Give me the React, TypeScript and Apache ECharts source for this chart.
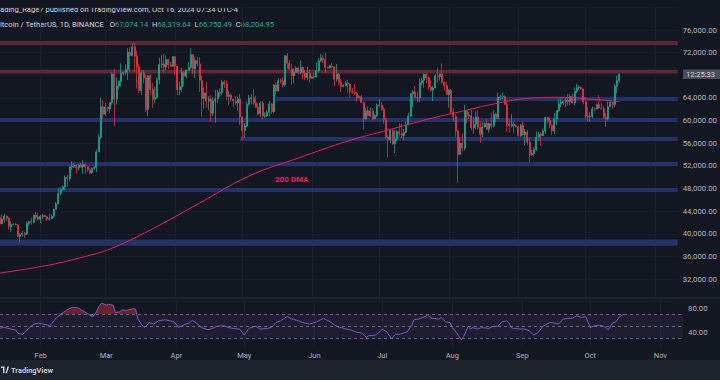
import React, { useEffect, useRef } from 'react';
import * as echarts from 'echarts';

// ---------- categories: daily dates Jan 14 → Nov 11, 2024 ----------
const START = Date.UTC(2024, 0, 14);
const N_DAYS = 303;
const dates: string[] = [];
for (let i = 0; i < N_DAYS; i++) {
  dates.push(new Date(START + i * 86400000).toISOString().slice(0, 10));
}
const MONTHS = ['Jan', 'Feb', 'Mar', 'Apr', 'May', 'Jun', 'Jul', 'Aug', 'Sep', 'Oct', 'Nov', 'Dec'];

// ---------- BTCUSDT daily candles [open, high, low, close] ----------
const jan = [
  [42840, 43080, 41720, 41730], [41730, 43400, 41720, 42510], [42510, 43580, 42050, 43140],
  [43140, 43200, 42200, 42780], [42780, 42930, 40680, 41260], [41260, 42200, 40280, 41620],
  [41620, 41870, 41500, 41660], [41660, 41880, 41500, 41570], [41570, 41670, 39430, 39510],
  [39510, 40130, 38550, 39850], [39850, 40550, 39480, 40080], [40080, 40300, 39260, 39930],
  [39930, 42220, 39810, 41820], [41820, 42200, 41390, 42120], [42120, 42840, 41620, 42030],
  [42030, 43310, 41800, 43300], [43300, 43880, 42680, 42940], [42940, 43740, 42280, 42580],
];
const feb = [
  [42580, 43290, 41880, 43080], [43080, 43480, 42580, 43190], [43190, 43380, 42880, 43000],
  [43000, 43120, 42260, 42580], [42580, 43530, 42260, 42660], [42660, 43390, 42580, 43090],
  [43090, 44370, 42790, 44340], [44340, 45610, 44330, 45290], [45290, 48200, 45240, 47130],
  [47130, 48170, 46800, 47770], [47770, 48590, 47690, 48290], [48290, 50330, 47710, 49960],
  [49960, 50370, 48300, 49700], [49700, 52040, 49280, 51810], [51810, 52820, 51310, 51940],
  [51940, 52570, 51620, 52130], [52130, 52200, 50630, 51650], [51650, 52390, 51160, 52140],
  [52140, 52490, 51680, 51780], [51780, 52990, 50520, 52260], [52260, 52370, 50630, 51850],
  [51850, 52070, 50930, 51300], [51300, 51550, 50520, 50730], [50730, 51670, 50590, 51570],
  [51570, 51960, 51280, 51730], [51730, 54940, 50900, 54480], [54480, 57590, 54450, 57040],
  [57040, 64000, 56690, 62430], [62430, 63680, 60360, 61130],
];
const mar = [
  [61130, 63110, 60790, 62390], [62390, 62430, 61560, 62030], [62030, 63230, 61320, 63170],
  [63170, 68500, 62770, 68240], [68240, 69170, 59000, 63800], [63800, 67640, 62850, 66110],
  [66110, 67000, 65520, 66930], [66930, 70140, 66000, 68300], [68300, 68660, 67960, 68500],
  [68500, 69960, 68100, 69020], [69020, 72800, 67190, 72120], [72120, 73000, 68620, 71480],
  [71480, 73650, 71330, 73080], [73080, 73780, 68560, 71390], [71390, 72360, 65630, 69500],
  [69500, 70040, 64780, 65300], [65300, 68900, 64530, 68390], [68390, 68930, 66590, 67550],
  [67550, 68110, 61540, 61910], [61910, 68030, 60780, 67910], [67910, 68200, 64530, 65490],
  [65490, 66650, 62260, 63780], [63780, 65980, 63000, 64060], [64060, 67620, 63800, 67230],
  [67230, 71150, 66390, 69880], [69880, 71560, 69220, 69990], [69990, 71740, 68380, 69460],
  [69460, 71550, 68910, 70780], [70780, 70920, 69100, 69850], [69850, 70360, 69560, 69580],
  [69580, 71370, 69560, 71280],
];
const apr = [
  [71280, 71330, 68060, 69650], [69650, 69670, 64490, 65460], [65460, 66900, 64490, 65960],
  [65960, 69290, 65060, 68510], [68510, 68720, 66010, 67840], [67840, 69000, 67460, 68900],
  [68900, 70330, 68820, 69360], [69360, 72800, 69040, 71620], [71620, 71760, 68210, 69150],
  [69150, 71170, 67520, 70630], [70630, 71260, 69570, 70010], [70010, 71230, 65090, 67120],
  [67120, 67930, 60660, 63920], [63920, 65840, 62130, 64910], [64910, 66870, 62300, 63430],
  [63430, 64360, 61800, 63800], [63800, 64490, 59770, 61280], [61280, 64120, 60830, 63470],
  [63470, 65450, 59600, 63820], [63820, 65400, 63090, 64940], [64940, 65720, 64240, 64960],
  [64960, 67230, 64500, 66840], [66840, 67200, 65800, 66410], [66410, 67080, 63600, 64280],
  [64280, 65290, 62790, 64500], [64500, 64790, 63320, 63770], [63770, 63920, 62390, 63460],
  [63460, 64360, 62790, 63120], [63120, 64230, 61770, 63840], [63840, 64730, 59190, 60640],
];
const may = [
  [60640, 60780, 56550, 58250], [58250, 59600, 56940, 59060], [59060, 63320, 58820, 62880],
  [62880, 64500, 62600, 63890], [63890, 64640, 62900, 64030], [64030, 65500, 62700, 63160],
  [63160, 64390, 62260, 62330], [62330, 62990, 60880, 61190], [61190, 63420, 60600, 63070],
  [63070, 63470, 60190, 60790], [60790, 61490, 60490, 60820], [60820, 61820, 60630, 61480],
  [61480, 63450, 60750, 62940], [62940, 63100, 61150, 61580], [61580, 66440, 61330, 66270],
  [66270, 66740, 64600, 65230], [65230, 67460, 65110, 67050], [67050, 67400, 66600, 66940],
  [66940, 67700, 65860, 66280], [66280, 71520, 66060, 71450], [71450, 71960, 69160, 70140],
  [70140, 70660, 68840, 69120], [69120, 70080, 66310, 67930], [67930, 69230, 66620, 68530],
  [68530, 69580, 68520, 69290], [69290, 69540, 68200, 68510], [68510, 70650, 68220, 69400],
  [69400, 69560, 67250, 68370], [68370, 68900, 67120, 67630], [67630, 69500, 67130, 68350],
  [68350, 69020, 66670, 67490],
];
const jun = [
  [67490, 67860, 67390, 67710], [67710, 68440, 67300, 67750], [67750, 70280, 67610, 68800],
  [68800, 71060, 68550, 70570], [70570, 71760, 70380, 71080], [71080, 71630, 70120, 70760],
  [70760, 71990, 68420, 69340], [69340, 69560, 69210, 69300], [69300, 69850, 69130, 69650],
  [69650, 70150, 69230, 69510], [69510, 69550, 66050, 67320], [67320, 69990, 66900, 68240],
  [68240, 68450, 66300, 66760], [66760, 67320, 65060, 66010], [66010, 66400, 65870, 66190],
  [66190, 66990, 66060, 66640], [66640, 67190, 65010, 66490], [66490, 66570, 64060, 65160],
  [65160, 65730, 64690, 64960], [64960, 66480, 64520, 64830], [64830, 65070, 63380, 64100],
  [64100, 64520, 63930, 64250], [64250, 64490, 63180, 63180], [63180, 63370, 58400, 60280],
  [60280, 62260, 60220, 61800], [61800, 62480, 60770, 60860], [60860, 62300, 60600, 61680],
  [61680, 62190, 60000, 60320], [60320, 61130, 60270, 60890], [60890, 63050, 60610, 62680],
];
const jul = [
  [62680, 63780, 62490, 62770], [62770, 63280, 61770, 62020], [62020, 62280, 59410, 60200],
  [60200, 60500, 56770, 57050], [57050, 57500, 53480, 56640], [56640, 58480, 56020, 58230],
  [58230, 58470, 55700, 55850], [55850, 58250, 54260, 56700], [56700, 58300, 56300, 58050],
  [58050, 59470, 57160, 57730], [57730, 59400, 56950, 57340], [57340, 58530, 56550, 57900],
  [57900, 59850, 57760, 59230], [59230, 61420, 59230, 60790], [60790, 64900, 60630, 64720],
  [64720, 65390, 62400, 65040], [65040, 66130, 63900, 64090], [64090, 65110, 63210, 63990],
  [63990, 67470, 63300, 66660], [66660, 67600, 66220, 67140], [67140, 68380, 65800, 68170],
  [68170, 68480, 66570, 67550], [67550, 67800, 65440, 65930], [65930, 67100, 65100, 65370],
  [65370, 66170, 63440, 65780], [65780, 68240, 65760, 67900], [67900, 69400, 66640, 67810],
  [67810, 68320, 67060, 68250], [68250, 70080, 66500, 66780], [66780, 66990, 65300, 66190],
  [66190, 66830, 64520, 64620],
];
const aug = [
  [64620, 65600, 62300, 65350], [65350, 65600, 61120, 61500], [61500, 62200, 59850, 60700],
  [60700, 61120, 57120, 58160], [58160, 58300, 49000, 54020], [54020, 57040, 53960, 56030],
  [56030, 57730, 54560, 55130], [55130, 62750, 54730, 61710], [61710, 61750, 59580, 60880],
  [60880, 61470, 60270, 60940], [60940, 61860, 58290, 58710], [58710, 60680, 57630, 59350],
  [59350, 61580, 58440, 60610], [60610, 61800, 58430, 58740], [58740, 59850, 56080, 57560],
  [57560, 59820, 57100, 58870], [58870, 59690, 58790, 59480], [59480, 60270, 58420, 58450],
  [58450, 59620, 57850, 59490], [59490, 61400, 58600, 59010], [59010, 61830, 58790, 61160],
  [61160, 61400, 59750, 60380], [60380, 64960, 60350, 64090], [64090, 64520, 63560, 64180],
  [64180, 65000, 63800, 64250], [64250, 64480, 62800, 62830], [62830, 63240, 58030, 59420],
  [59420, 60240, 57860, 59030], [59030, 61180, 58800, 59370], [59370, 59950, 57720, 59120],
  [59120, 59430, 58740, 58970],
];
const sep = [
  [58970, 59060, 57200, 57300], [57300, 59410, 57120, 59130], [59130, 59810, 57420, 57490],
  [57490, 58520, 55600, 57970], [57970, 58330, 55640, 56160], [56160, 56990, 52550, 53960],
  [53960, 54850, 53740, 54160], [54160, 55320, 53630, 54880], [54880, 58100, 54600, 57050],
  [57050, 58040, 56380, 57650], [57650, 57990, 55550, 57340], [57340, 58590, 57330, 58130],
  [58130, 60660, 57630, 60540], [60540, 60660, 59460, 60000], [60000, 60390, 58700, 59190],
  [59190, 59210, 57490, 58210], [58210, 61350, 57610, 60310], [60310, 61790, 59170, 61760],
  [61760, 63870, 61570, 62950], [62950, 64130, 62350, 63200], [63200, 63560, 62760, 63350],
  [63350, 64000, 62360, 63580], [63580, 64750, 62600, 63340], [63340, 64690, 62700, 64260],
  [64260, 64820, 62950, 63150], [63150, 65840, 62670, 65180], [65180, 66500, 64830, 65790],
  [65790, 66260, 65420, 65890], [65890, 66080, 65430, 65600], [65600, 65620, 62860, 63330],
];
const oct = [
  [63330, 64130, 60170, 60810], [60810, 62390, 59830, 60650], [60650, 61480, 59830, 60750],
  [60750, 62480, 60460, 62070], [62070, 62370, 61640, 62050], [62050, 63000, 61990, 62820],
  [62820, 64480, 62120, 62220], [62220, 63200, 61850, 62130], [62130, 62540, 60300, 60580],
  [60580, 61320, 58900, 60270], [60270, 63400, 60050, 62450], [62450, 63480, 62450, 63200],
  [63200, 63280, 62050, 62850], [62850, 66500, 62420, 66050], [66050, 67950, 64800, 67040],
  [67074, 68320, 66750, 68205],
];
const ohlc = [...jan, ...feb, ...mar, ...apr, ...may, ...jun, ...jul, ...aug, ...sep, ...oct];

// ---------- 200-day moving average ----------
const dma200: [string, number][] = [
  ['01-14', 33060], ['02-05', 34480], ['02-20', 35890], ['03-03', 37310], ['03-21', 40670],
  ['04-12', 45440], ['05-04', 50210], ['05-26', 53390], ['06-17', 56390], ['07-05', 58330],
  ['07-23', 60280], ['08-06', 61570], ['08-21', 62930], ['09-05', 63930], ['09-19', 64110],
  ['10-04', 63760], ['10-16', 63340],
];

// ---------- RSI(14) ----------
const rsi: [string, number][] = [
  ['01-14', 47], ['01-16', 48], ['01-19', 45.4], ['01-21', 43.8], ['01-22', 38], ['01-24', 37],
  ['01-25', 40], ['01-27', 48], ['01-29', 53.6], ['01-31', 55], ['02-02', 53.6], ['02-05', 51],
  ['02-06', 55], ['02-08', 64.5], ['02-11', 72.7], ['02-13', 78], ['02-15', 81], ['02-17', 81],
  ['02-19', 77], ['02-22', 70], ['02-24', 65.6], ['02-25', 70], ['02-27', 83.7], ['02-28', 88],
  ['03-01', 84.8], ['03-02', 86], ['03-04', 84.8], ['03-05', 72.7], ['03-07', 73.8], ['03-08', 77],
  ['03-10', 76], ['03-13', 79], ['03-14', 77], ['03-15', 62], ['03-17', 51], ['03-18', 48],
  ['03-20', 56], ['03-22', 53.6], ['03-24', 59], ['03-27', 60.7], ['03-29', 59], ['03-31', 57.4],
  ['04-02', 48], ['04-04', 52], ['04-07', 56], ['04-08', 60], ['04-10', 55], ['04-12', 48],
  ['04-15', 44.3], ['04-17', 46.5], ['04-19', 50], ['04-22', 51], ['04-24', 48], ['04-26', 46.5],
  ['04-29', 45.4], ['05-01', 35.6], ['05-03', 46.5], ['05-04', 48], ['05-06', 50], ['05-08', 45.4],
  ['05-11', 46.5], ['05-13', 48], ['05-15', 56], ['05-17', 59], ['05-20', 66], ['05-22', 62],
  ['05-25', 59], ['05-27', 56], ['05-30', 53.6], ['06-02', 57.4], ['06-05', 63], ['06-08', 57.4],
  ['06-10', 52], ['06-12', 48], ['06-13', 48], ['06-15', 45.4], ['06-17', 44.3], ['06-19', 41],
  ['06-22', 38.9], ['06-24', 31.7], ['06-25', 34.5], ['06-28', 35.6], ['06-30', 41], ['07-01', 45.4],
  ['07-03', 41], ['07-05', 30], ['07-07', 37], ['07-09', 37], ['07-12', 41], ['07-14', 51],
  ['07-15', 60.7], ['07-17', 61.8], ['07-20', 66], ['07-21', 68.4], ['07-23', 63], ['07-26', 61.8],
  ['07-27', 64.5], ['07-29', 57.4], ['07-31', 56], ['08-01', 48], ['08-03', 38.9], ['08-04', 33],
  ['08-05', 27.9], ['08-06', 33.4], ['08-08', 49.8], ['08-09', 45.4], ['08-10', 48], ['08-12', 45.4],
  ['08-14', 48], ['08-17', 46.5], ['08-19', 50], ['08-21', 50], ['08-23', 57.4], ['08-25', 59],
  ['08-26', 56], ['08-27', 48], ['08-28', 46.5], ['08-31', 45.4], ['09-02', 45.4], ['09-04', 42.7],
  ['09-06', 35.6], ['09-08', 40], ['09-10', 50], ['09-13', 56], ['09-14', 56], ['09-17', 53.6],
  ['09-19', 61.8], ['09-21', 63], ['09-23', 63], ['09-25', 67.3], ['09-27', 64.5], ['09-29', 66],
  ['10-01', 48], ['10-03', 51], ['10-05', 52], ['10-07', 50], ['10-09', 44.3], ['10-11', 56],
  ['10-12', 56], ['10-14', 66], ['10-16', 70],
];

// ---------- support / resistance zones [low, high, start] ----------
const redZones: [number, number, string | null][] = [
  [73350, 74050, null],
  [68300, 69000, null],
];
const blueZones: [number, number, string | null][] = [
  [63450, 64150, '05-16'],
  [59750, 60450, null],
  [56400, 57100, '04-30'],
  [51970, 52680, null],
  [47370, 48080, null],
  [37900, 39000, null],
];

const headerLine1 = 'ading_Rage7 published on TradingView.com, Oct 16, 2024 07:34 UTC-4';
const headerSymbol = 'itcoin / TetherUS, 1D, BINANCE';
const headerOHLC: [string, string][] = [
  ['O', '67,074.14'], ['H', '68,319.64'], ['L', '66,750.49'], ['C', '68,204.95'],
];

const BG = '#131722';
const FONT = 'Roboto, "Noto Sans", sans-serif';
const UP = '#22ab94';
const DOWN = '#f23645';

export default function App() {
  const ref = useRef<HTMLDivElement>(null);

  useEffect(() => {
    if (!ref.current) return;
    const chart = echarts.init(ref.current, null, { renderer: 'svg' });
    const lastDate = dates[dates.length - 1];
    const d = (md: string) => '2024-' + md;
    const monthStart = (_i: number, v: string) => typeof v === 'string' && v.endsWith('-01');

    const zoneData = (zones: [number, number, string | null][], color: string) =>
      zones.map(([lo, hi, start]) =>
        start
          ? [
              { xAxis: d(start), yAxis: lo, itemStyle: { color } },
              { xAxis: lastDate, yAxis: hi },
            ]
          : [{ yAxis: lo, itemStyle: { color } }, { yAxis: hi }]
      );

    const candleData = ohlc.map(([o, h, l, c]) => [o, c, l, h]);

    // symbol line as one rich text (no overlaps)
    const line2 =
      '{s|' + headerSymbol + '}   ' +
      headerOHLC.map(([k, v]) => '{k|' + k + '}{v|' + v + '}').join('  ');

    const option: any = {
      animation: false,
      backgroundColor: BG,
      grid: [
        { left: 0, right: 37, top: 7.4, height: 294.3 },
        { left: 0, right: 37, top: 298.85, height: 48.8 },
      ],
      xAxis: [
        {
          type: 'category', gridIndex: 0, data: dates, boundaryGap: false,
          axisLine: { show: false }, axisTick: { show: false }, axisLabel: { show: false },
          splitLine: { show: true, interval: monthStart, lineStyle: { color: '#1b1f2c', width: 1 } },
        },
        {
          type: 'category', gridIndex: 1, data: dates, boundaryGap: false,
          axisLine: { show: false }, axisTick: { show: false },
          axisLabel: {
            show: true, interval: monthStart, margin: 3.5, color: '#b2b5be', fontSize: 7.5, fontFamily: FONT,
            formatter: (v: string) => MONTHS[parseInt(v.slice(5, 7), 10) - 1],
          },
          splitLine: { show: true, interval: monthStart, lineStyle: { color: '#1b1f2c', width: 1 } },
        },
      ],
      yAxis: [
        {
          type: 'value', gridIndex: 0, position: 'right', min: 28000, max: 80000, interval: 4000,
          axisLine: { show: false }, axisTick: { show: false },
          splitLine: { show: true, lineStyle: { color: '#181c28', width: 1 } },
          axisLabel: {
            margin: 5, color: '#b2b5be', fontSize: 7.8, fontFamily: FONT,
            formatter: (v: number) =>
              v <= 28000 || v >= 80000 || v === 68000
                ? ''
                : v.toLocaleString('en-US', { minimumFractionDigits: 2, maximumFractionDigits: 2 }),
          },
        },
        {
          type: 'value', gridIndex: 1, position: 'right', min: 15, max: 95, interval: 5,
          axisLine: { show: false }, axisTick: { show: false }, splitLine: { show: false },
          axisLabel: {
            margin: 5, color: '#b2b5be', fontSize: 7.8, fontFamily: FONT,
            formatter: (v: number) => (v === 40 || v === 80 ? v.toFixed(2) : ''),
          },
        },
      ],
      series: [
        {
          name: 'zones', type: 'line', xAxisIndex: 0, yAxisIndex: 0, data: [], z: 1,
          markArea: {
            silent: true,
            data: [...zoneData(redZones, '#5c2836'), ...zoneData(blueZones, '#243268')],
          },
        },
        {
          name: 'BTCUSDT', type: 'candlestick', xAxisIndex: 0, yAxisIndex: 0, data: candleData, z: 3,
          barWidth: 1.5,
          itemStyle: { color: UP, color0: DOWN, borderColor: UP, borderColor0: DOWN, borderWidth: 0.7 },
        },
        {
          name: '200 DMA', type: 'line', xAxisIndex: 0, yAxisIndex: 0, z: 4,
          data: dma200.map(([md, v]) => [d(md), v]),
          smooth: 0.4, showSymbol: false, lineStyle: { color: '#e91e63', width: 1 },
        },
        {
          name: 'RSI-OB', type: 'line', xAxisIndex: 1, yAxisIndex: 1, z: 2,
          data: rsi.map(([md, v]) => [d(md), Math.max(v, 70)]),
          showSymbol: false, lineStyle: { width: 0, opacity: 0 },
          areaStyle: { origin: 70, color: 'rgba(242,54,69,0.55)' },
        },
        {
          name: 'RSI', type: 'line', xAxisIndex: 1, yAxisIndex: 1, z: 3,
          data: rsi.map(([md, v]) => [d(md), v]),
          showSymbol: false, lineStyle: { color: '#7e57c2', width: 1 },
          markArea: {
            silent: true,
            data: [[{ yAxis: 30, itemStyle: { color: 'rgba(126,87,194,0.1)' } }, { yAxis: 70 }]],
          },
          markLine: {
            silent: true, symbol: 'none', label: { show: false },
            lineStyle: { color: '#787b86', type: [3, 3], width: 0.8 },
            data: [{ yAxis: 70 }, { yAxis: 50 }, { yAxis: 30 }],
          },
        },
      ],
      graphic: [
        { type: 'line', shape: { x1: 0, y1: 298, x2: 720, y2: 298 }, style: { stroke: '#2a2e39', lineWidth: 1 } },
        { type: 'rect', shape: { x: 0, y: 360, width: 720, height: 20 }, style: { fill: '#1e222d' } },
        {
          type: 'polygon', shape: { points: [[1, 366.5], [4.5, 366.5], [4.5, 373], [3, 373], [3, 368], [1, 368]] },
          style: { fill: '#d1d4dc' },
        },
        {
          type: 'polygon', shape: { points: [[5.5, 373], [7.5, 366.5], [9, 366.5], [7, 373]] },
          style: { fill: '#d1d4dc' },
        },
        {
          type: 'text', x: 11, y: 370,
          style: { text: 'TradingView', fill: '#d1d4dc', fontSize: 7.5, fontWeight: 600, fontFamily: FONT, verticalAlign: 'middle' },
        },
        {
          type: 'text', x: 275, y: 179,
          style: { text: '200 DMA', fill: '#e91e63', fontSize: 8, fontWeight: 'bold', fontFamily: FONT, verticalAlign: 'middle' },
        },
        { type: 'rect', shape: { x: 683, y: 69.5, width: 37, height: 9.5 }, style: { fill: '#4a4e5a' }, z: 10 },
        {
          type: 'text', x: 686, y: 74.4, z: 11,
          style: { text: '12:25:33', fill: '#d1d4dc', fontSize: 7.5, fontFamily: FONT, verticalAlign: 'middle' },
        },
        {
          type: 'text', x: 0, y: 9,
          style: { text: headerLine1, fill: '#d1d4dc', fontSize: 7.6, fontFamily: FONT, verticalAlign: 'middle' },
        },
        {
          type: 'text', x: 0, y: 24,
          style: {
            text: line2, fontSize: 7.6, fontFamily: FONT, verticalAlign: 'middle',
            rich: {
              s: { fill: '#d1d4dc', fontSize: 7.6, fontFamily: FONT },
              k: { fill: '#d1d4dc', fontSize: 7.6, fontFamily: FONT },
              v: { fill: UP, fontSize: 7.6, fontFamily: FONT },
            },
          },
        },
      ],
    };
    chart.setOption(option);
    return () => chart.dispose();
  }, []);

  return (
    <div
      ref={ref}
      style={{ position: 'fixed', left: 0, top: 0, width: 720, height: 380, background: BG }}
    />
  );
}
